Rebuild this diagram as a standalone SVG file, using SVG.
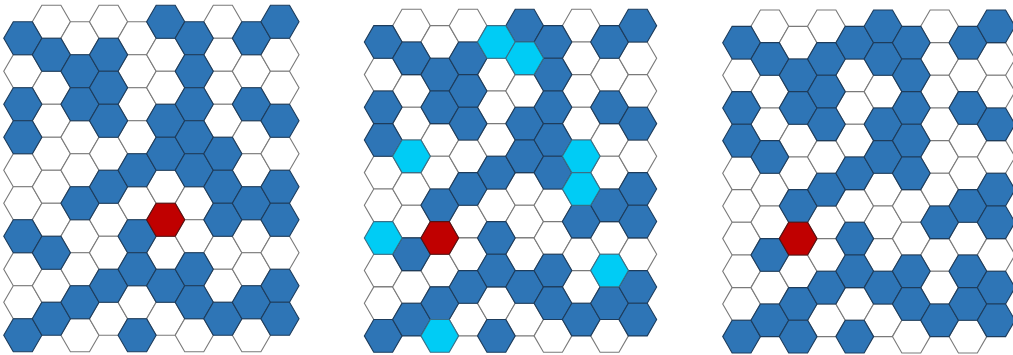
<svg xmlns="http://www.w3.org/2000/svg" width="1013" height="355" viewBox="0 0 1013 355">
<style>
.w use,use.w{fill:#ffffff;stroke:#7a7a7a;stroke-width:1.1}
.b use,use.b{fill:#2e75b6;stroke:#1d3c5c;stroke-width:1.1}
use.r{fill:#c00000;stroke:#5a1010;stroke-width:1.1}
use.c{fill:#00ccf5;stroke:#3a6f86;stroke-width:1.1}
</style>
<defs>
<polygon id="h" points="18.86,0 9.43,16.33 -9.43,16.33 -18.86,0 -9.43,-16.33 9.43,-16.33"/>
</defs>
<rect width="1013" height="355" fill="#ffffff"/>

<g id="panel1" transform="translate(22.8,21.8) scale(1.0101)">
<g class="w">
<g transform="translate(0,16.33)"><use href="#h" y="32.66"/><use href="#h" y="130.64"/><use href="#h" y="163.3"/><use href="#h" y="228.62"/><use href="#h" y="261.28"/></g>
<g transform="translate(28.29,0)"><use href="#h" y="0"/><use href="#h" y="65.32"/><use href="#h" y="97.98"/><use href="#h" y="130.64"/><use href="#h" y="163.3"/><use href="#h" y="195.96"/><use href="#h" y="261.28"/></g>
<g transform="translate(56.58,16.33)"><use href="#h" y="0"/><use href="#h" y="97.98"/><use href="#h" y="130.64"/><use href="#h" y="195.96"/><use href="#h" y="228.62"/><use href="#h" y="293.94"/></g>
<g transform="translate(84.87,0)"><use href="#h" y="0"/><use href="#h" y="130.64"/><use href="#h" y="195.96"/><use href="#h" y="228.62"/><use href="#h" y="293.94"/></g>
<g transform="translate(113.16,16.33)"><use href="#h" y="0"/><use href="#h" y="32.66"/><use href="#h" y="65.32"/><use href="#h" y="97.98"/><use href="#h" y="163.3"/><use href="#h" y="261.28"/></g>
<g transform="translate(141.45,0)"><use href="#h" y="32.66"/><use href="#h" y="65.32"/><use href="#h" y="163.3"/><use href="#h" y="228.62"/><use href="#h" y="293.94"/></g>
<g transform="translate(169.74,16.33)"><use href="#h" y="163.3"/><use href="#h" y="195.96"/><use href="#h" y="293.94"/></g>
<g transform="translate(198.03,0)"><use href="#h" y="0"/><use href="#h" y="32.66"/><use href="#h" y="65.32"/><use href="#h" y="97.98"/><use href="#h" y="228.62"/><use href="#h" y="261.28"/></g>
<g transform="translate(226.32,16.33)"><use href="#h" y="32.66"/><use href="#h" y="97.98"/><use href="#h" y="130.64"/><use href="#h" y="195.96"/><use href="#h" y="228.62"/><use href="#h" y="293.94"/></g>
<g transform="translate(254.61,0)"><use href="#h" y="32.66"/><use href="#h" y="65.32"/><use href="#h" y="130.64"/><use href="#h" y="228.62"/></g>
</g>
<g class="b">
<g transform="translate(0,16.33)"><use href="#h" y="0"/><use href="#h" y="65.32"/><use href="#h" y="97.98"/><use href="#h" y="195.96"/><use href="#h" y="293.94"/></g>
<g transform="translate(28.29,0)"><use href="#h" y="32.66"/><use href="#h" y="228.62"/><use href="#h" y="293.94"/></g>
<g transform="translate(56.58,16.33)"><use href="#h" y="32.66"/><use href="#h" y="65.32"/><use href="#h" y="163.3"/><use href="#h" y="261.28"/></g>
<g transform="translate(84.87,0)"><use href="#h" y="32.66"/><use href="#h" y="65.32"/><use href="#h" y="97.98"/><use href="#h" y="163.3"/><use href="#h" y="261.28"/></g>
<g transform="translate(113.16,16.33)"><use href="#h" y="130.64"/><use href="#h" y="195.96"/><use href="#h" y="228.62"/><use href="#h" y="293.94"/></g>
<g transform="translate(141.45,0)"><use href="#h" y="0"/><use href="#h" y="97.98"/><use href="#h" y="130.64"/><use href="#h" y="261.28"/></g>
<g transform="translate(169.74,16.33)"><use href="#h" y="0"/><use href="#h" y="32.66"/><use href="#h" y="65.32"/><use href="#h" y="97.98"/><use href="#h" y="130.64"/><use href="#h" y="228.62"/><use href="#h" y="261.28"/></g>
<g transform="translate(198.03,0)"><use href="#h" y="130.64"/><use href="#h" y="163.3"/><use href="#h" y="195.96"/><use href="#h" y="293.94"/></g>
<g transform="translate(226.32,16.33)"><use href="#h" y="0"/><use href="#h" y="65.32"/><use href="#h" y="163.3"/><use href="#h" y="261.28"/></g>
<g transform="translate(254.61,0)"><use href="#h" y="0"/><use href="#h" y="97.98"/><use href="#h" y="163.3"/><use href="#h" y="195.96"/><use href="#h" y="261.28"/><use href="#h" y="293.94"/></g>
</g>
<use href="#h" class="r" x="141.45" y="195.96"/>
</g>

<g id="panel2" transform="translate(383.2,25.63)">
<g class="w">
<g transform="translate(0,16.33)"><use href="#h" y="32.66"/><use href="#h" y="130.64"/><use href="#h" y="163.3"/><use href="#h" y="228.62"/><use href="#h" y="261.28"/></g>
<g transform="translate(28.29,0)"><use href="#h" y="0"/><use href="#h" y="65.32"/><use href="#h" y="97.98"/><use href="#h" y="163.3"/><use href="#h" y="195.96"/><use href="#h" y="261.28"/></g>
<g transform="translate(56.58,16.33)"><use href="#h" y="0"/><use href="#h" y="97.98"/><use href="#h" y="130.64"/><use href="#h" y="228.62"/></g>
<g transform="translate(84.87,0)"><use href="#h" y="0"/><use href="#h" y="130.64"/><use href="#h" y="195.96"/><use href="#h" y="228.62"/><use href="#h" y="293.94"/></g>
<g transform="translate(113.16,16.33)"><use href="#h" y="32.66"/><use href="#h" y="65.32"/><use href="#h" y="97.98"/><use href="#h" y="163.3"/><use href="#h" y="261.28"/></g>
<g transform="translate(141.45,0)"><use href="#h" y="65.32"/><use href="#h" y="163.3"/><use href="#h" y="195.96"/><use href="#h" y="228.62"/><use href="#h" y="293.94"/></g>
<g transform="translate(169.74,16.33)"><use href="#h" y="163.3"/><use href="#h" y="195.96"/><use href="#h" y="293.94"/></g>
<g transform="translate(198.03,0)"><use href="#h" y="0"/><use href="#h" y="32.66"/><use href="#h" y="65.32"/><use href="#h" y="97.98"/><use href="#h" y="228.62"/><use href="#h" y="261.28"/></g>
<g transform="translate(226.32,16.33)"><use href="#h" y="32.66"/><use href="#h" y="97.98"/><use href="#h" y="130.64"/><use href="#h" y="195.96"/><use href="#h" y="293.94"/></g>
<g transform="translate(254.61,0)"><use href="#h" y="32.66"/><use href="#h" y="65.32"/><use href="#h" y="130.64"/><use href="#h" y="228.62"/></g>
</g>
<g class="b">
<g transform="translate(0,16.33)"><use href="#h" y="0"/><use href="#h" y="65.32"/><use href="#h" y="97.98"/><use href="#h" y="293.94"/></g>
<g transform="translate(28.29,0)"><use href="#h" y="32.66"/><use href="#h" y="228.62"/><use href="#h" y="293.94"/></g>
<g transform="translate(56.58,16.33)"><use href="#h" y="32.66"/><use href="#h" y="65.32"/><use href="#h" y="163.3"/><use href="#h" y="261.28"/></g>
<g transform="translate(84.87,0)"><use href="#h" y="32.66"/><use href="#h" y="65.32"/><use href="#h" y="97.98"/><use href="#h" y="163.3"/><use href="#h" y="261.28"/></g>
<g transform="translate(113.16,16.33)"><use href="#h" y="130.64"/><use href="#h" y="195.96"/><use href="#h" y="228.62"/><use href="#h" y="293.94"/></g>
<g transform="translate(141.45,0)"><use href="#h" y="0"/><use href="#h" y="97.98"/><use href="#h" y="130.64"/><use href="#h" y="261.28"/></g>
<g transform="translate(169.74,16.33)"><use href="#h" y="0"/><use href="#h" y="32.66"/><use href="#h" y="65.32"/><use href="#h" y="97.98"/><use href="#h" y="130.64"/><use href="#h" y="228.62"/><use href="#h" y="261.28"/></g>
<g transform="translate(198.03,0)"><use href="#h" y="195.96"/><use href="#h" y="293.94"/></g>
<g transform="translate(226.32,16.33)"><use href="#h" y="0"/><use href="#h" y="65.32"/><use href="#h" y="163.3"/><use href="#h" y="261.28"/></g>
<g transform="translate(254.61,0)"><use href="#h" y="0"/><use href="#h" y="97.98"/><use href="#h" y="163.3"/><use href="#h" y="195.96"/><use href="#h" y="261.28"/><use href="#h" y="293.94"/></g>
</g>
<use href="#h" class="c" x="0" y="212.29"/>
<use href="#h" class="c" x="28.29" y="130.64"/>
<use href="#h" class="c" x="56.58" y="310.27"/>
<use href="#h" class="c" x="113.16" y="16.33"/>
<use href="#h" class="c" x="141.45" y="32.66"/>
<use href="#h" class="c" x="198.03" y="130.64"/>
<use href="#h" class="c" x="198.03" y="163.3"/>
<use href="#h" class="c" x="226.32" y="244.95"/>
<use href="#h" class="r" x="56.58" y="212.29"/>
</g>

<g id="panel3" transform="translate(741.56,26.33)">
<g class="w">
<g transform="translate(0,16.33)"><use href="#h" y="32.66"/><use href="#h" y="130.64"/><use href="#h" y="163.3"/><use href="#h" y="195.96"/><use href="#h" y="228.62"/><use href="#h" y="261.28"/></g>
<g transform="translate(28.29,0)"><use href="#h" y="0"/><use href="#h" y="65.32"/><use href="#h" y="97.98"/><use href="#h" y="163.3"/><use href="#h" y="195.96"/><use href="#h" y="261.28"/></g>
<g transform="translate(56.58,16.33)"><use href="#h" y="0"/><use href="#h" y="97.98"/><use href="#h" y="130.64"/><use href="#h" y="228.62"/></g>
<g transform="translate(84.87,0)"><use href="#h" y="0"/><use href="#h" y="130.64"/><use href="#h" y="195.96"/><use href="#h" y="228.62"/><use href="#h" y="293.94"/></g>
<g transform="translate(113.16,16.33)"><use href="#h" y="32.66"/><use href="#h" y="65.32"/><use href="#h" y="97.98"/><use href="#h" y="163.3"/><use href="#h" y="261.28"/></g>
<g transform="translate(141.45,0)"><use href="#h" y="65.32"/><use href="#h" y="163.3"/><use href="#h" y="195.96"/><use href="#h" y="228.62"/><use href="#h" y="293.94"/></g>
<g transform="translate(169.74,16.33)"><use href="#h" y="163.3"/><use href="#h" y="195.96"/><use href="#h" y="293.94"/></g>
<g transform="translate(198.03,0)"><use href="#h" y="0"/><use href="#h" y="32.66"/><use href="#h" y="65.32"/><use href="#h" y="97.98"/><use href="#h" y="130.64"/><use href="#h" y="163.3"/><use href="#h" y="228.62"/><use href="#h" y="261.28"/></g>
<g transform="translate(226.32,16.33)"><use href="#h" y="32.66"/><use href="#h" y="97.98"/><use href="#h" y="130.64"/><use href="#h" y="195.96"/><use href="#h" y="293.94"/></g>
<g transform="translate(254.61,0)"><use href="#h" y="32.66"/><use href="#h" y="65.32"/><use href="#h" y="130.64"/><use href="#h" y="228.62"/></g>
</g>
<g class="b">
<g transform="translate(0,16.33)"><use href="#h" y="0"/><use href="#h" y="65.32"/><use href="#h" y="97.98"/><use href="#h" y="293.94"/></g>
<g transform="translate(28.29,0)"><use href="#h" y="32.66"/><use href="#h" y="130.64"/><use href="#h" y="228.62"/><use href="#h" y="293.94"/></g>
<g transform="translate(56.58,16.33)"><use href="#h" y="32.66"/><use href="#h" y="65.32"/><use href="#h" y="163.3"/><use href="#h" y="261.28"/><use href="#h" y="293.94"/></g>
<g transform="translate(84.87,0)"><use href="#h" y="32.66"/><use href="#h" y="65.32"/><use href="#h" y="97.98"/><use href="#h" y="163.3"/><use href="#h" y="261.28"/></g>
<g transform="translate(113.16,16.33)"><use href="#h" y="0"/><use href="#h" y="130.64"/><use href="#h" y="195.96"/><use href="#h" y="228.62"/><use href="#h" y="293.94"/></g>
<g transform="translate(141.45,0)"><use href="#h" y="0"/><use href="#h" y="32.66"/><use href="#h" y="97.98"/><use href="#h" y="130.64"/><use href="#h" y="261.28"/></g>
<g transform="translate(169.74,16.33)"><use href="#h" y="0"/><use href="#h" y="32.66"/><use href="#h" y="65.32"/><use href="#h" y="97.98"/><use href="#h" y="130.64"/><use href="#h" y="228.62"/><use href="#h" y="261.28"/></g>
<g transform="translate(198.03,0)"><use href="#h" y="195.96"/><use href="#h" y="293.94"/></g>
<g transform="translate(226.32,16.33)"><use href="#h" y="0"/><use href="#h" y="65.32"/><use href="#h" y="163.3"/><use href="#h" y="228.62"/><use href="#h" y="261.28"/></g>
<g transform="translate(254.61,0)"><use href="#h" y="0"/><use href="#h" y="97.98"/><use href="#h" y="163.3"/><use href="#h" y="195.96"/><use href="#h" y="261.28"/><use href="#h" y="293.94"/></g>
</g>
<use href="#h" class="r" x="56.58" y="212.29"/>
</g>
</svg>
